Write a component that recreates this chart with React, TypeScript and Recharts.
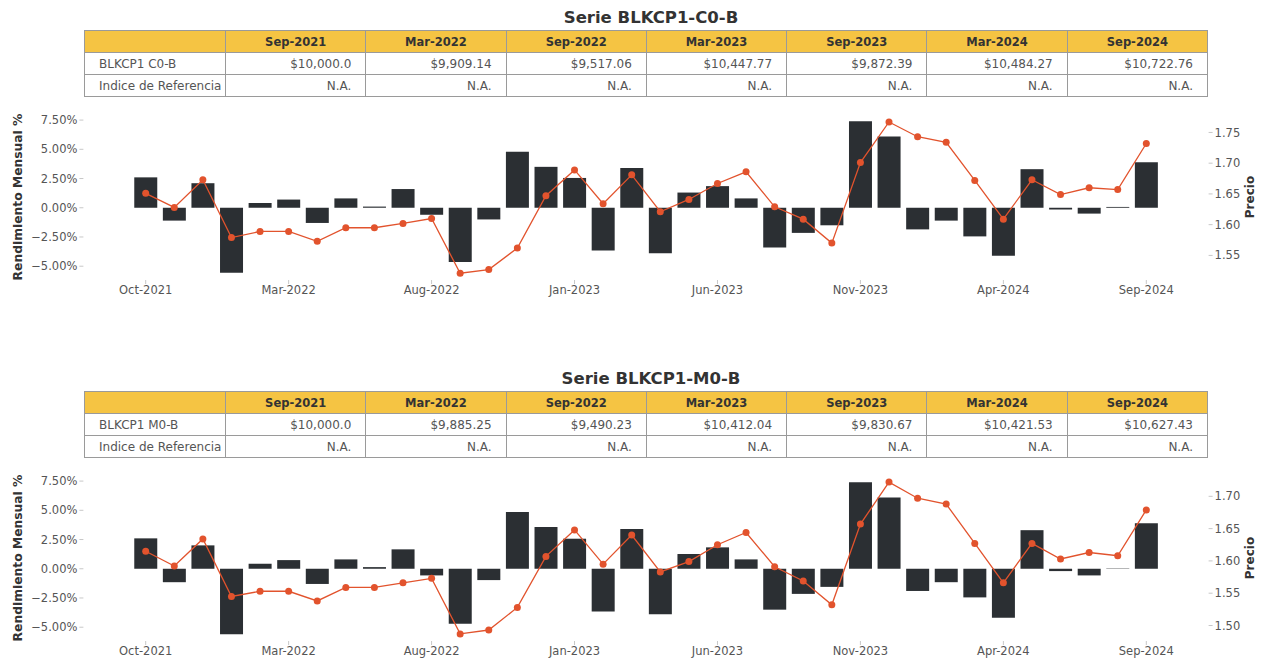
import React from "react";
import { ComposedChart, Bar, Line, XAxis, YAxis } from "recharts";

const MESES = [
  "Oct-2021", "Nov-2021", "Dec-2021", "Jan-2022", "Feb-2022", "Mar-2022",
  "Apr-2022", "May-2022", "Jun-2022", "Jul-2022", "Aug-2022", "Sep-2022",
  "Oct-2022", "Nov-2022", "Dec-2022", "Jan-2023", "Feb-2023", "Mar-2023",
  "Apr-2023", "May-2023", "Jun-2023", "Jul-2023", "Aug-2023", "Sep-2023",
  "Oct-2023", "Nov-2023", "Dec-2023", "Jan-2024", "Feb-2024", "Mar-2024",
  "Apr-2024", "May-2024", "Jun-2024", "Jul-2024", "Aug-2024", "Sep-2024",
];

// rendimiento mensual % (barras)
const REND_C0 = [
  2.6, -1.1, 2.1, -5.55, 0.4, 0.7, -1.3, 0.8, 0.1, 1.6, -0.6, -4.65,
  -1.0, 4.8, 3.5, 2.55, -3.65, 3.4, -3.9, 1.3, 1.85, 0.8, -3.4, -2.15,
  -1.5, 7.4, 6.1, -1.85, -1.1, -2.45, -4.1, 3.3, -0.15, -0.5, 0.07, 3.9,
];
const REND_M0 = [
  2.6, -1.15, 2.0, -5.6, 0.43, 0.74, -1.3, 0.8, 0.14, 1.66, -0.57, -4.7,
  -0.97, 4.86, 3.57, 2.57, -3.66, 3.4, -3.9, 1.26, 1.83, 0.8, -3.5, -2.15,
  -1.55, 7.4, 6.1, -1.9, -1.15, -2.45, -4.2, 3.3, -0.2, -0.57, 0.03, 3.9,
];

// precio (linea)
const PRECIO_C0 = [
  1.651, 1.628, 1.673, 1.579, 1.589, 1.589, 1.573, 1.595, 1.595, 1.602, 1.61, 1.521,
  1.527, 1.562, 1.647, 1.689, 1.634, 1.681, 1.621, 1.641, 1.667, 1.686, 1.629, 1.609,
  1.57, 1.701, 1.767, 1.743, 1.734, 1.672, 1.609, 1.673, 1.649, 1.66, 1.657, 1.732,
];
const PRECIO_M0 = [
  1.615, 1.592, 1.634, 1.545, 1.553, 1.553, 1.538, 1.559, 1.559, 1.566, 1.573, 1.487,
  1.493, 1.528, 1.607, 1.648, 1.595, 1.64, 1.583, 1.599, 1.625, 1.644, 1.591, 1.569,
  1.532, 1.657, 1.722, 1.697, 1.688, 1.627, 1.566, 1.627, 1.603, 1.613, 1.608, 1.679,
];

// tabla
const FECHAS_TABLA = ["Sep-2021", "Mar-2022", "Sep-2022", "Mar-2023", "Sep-2023", "Mar-2024", "Sep-2024"];
const VALOR_C0 = ["$10,000.0", "$9,909.14", "$9,517.06", "$10,447.77", "$9,872.39", "$10,484.27", "$10,722.76"];
const VALOR_M0 = ["$10,000.0", "$9,885.25", "$9,490.23", "$10,412.04", "$9,830.67", "$10,421.53", "$10,627.43"];

const PCT_TICKS = [-5, -2.5, 0, 2.5, 5, 7.5];
const PRECIO_TICKS_C0 = [1.55, 1.6, 1.65, 1.7, 1.75];
const PRECIO_TICKS_M0 = [1.5, 1.55, 1.6, 1.65, 1.7];

const FONT = "'DejaVu Sans', Verdana, sans-serif";
const BAR_COLOR = "#2b2f33";
const LINE_COLOR = "#e2532d";
const GOLD = "#f5c443";

const fmtPct = (v: number) => `${v.toFixed(2)}%`.replace("-", "\u2212");

interface PanelProps {
  top: number;
  titulo: string;
  nombre: string;
  valores: string[];
  rend: number[];
  precio: number[];
  precioDomain: [number, number];
  precioTicks: number[];
}

const Panel = ({ top, titulo, nombre, valores, rend, precio, precioDomain, precioTicks }: PanelProps) => {
  const data = MESES.map((m, i) => ({ mes: m, rend: rend[i], precio: precio[i] }));
  const cell: React.CSSProperties = {
    border: "1px solid #9a9a9a",
    height: 21,
    padding: "0 14px",
    fontSize: 12,
    color: "#555",
    whiteSpace: "nowrap",
  };
  const tick = { fontSize: 11.5, fill: "#555", fontFamily: FONT };
  return (
    <>
      <div
        style={{
          position: "absolute", left: 451, top: top + 8, width: 400, textAlign: "center",
          fontWeight: "bold", fontSize: 16.5, color: "#333", lineHeight: "20px",
        }}
      >
        {titulo}
      </div>
      <table
        style={{
          position: "absolute", left: 84, top: top + 30, width: 1124, borderCollapse: "collapse",
          tableLayout: "fixed", fontFamily: FONT,
        }}
      >
        <colgroup>
          <col style={{ width: 141 }} />
          {FECHAS_TABLA.map((f) => <col key={f} />)}
        </colgroup>
        <tbody>
          <tr style={{ background: GOLD }}>
            <td style={cell}></td>
            {FECHAS_TABLA.map((f) => (
              <td key={f} style={{ ...cell, textAlign: "center", fontWeight: "bold", color: "#333", fontSize: 11.5 }}>{f}</td>
            ))}
          </tr>
          <tr>
            <td style={cell}>{nombre}</td>
            {valores.map((v, i) => (
              <td key={i} style={{ ...cell, textAlign: "right" }}>{v}</td>
            ))}
          </tr>
          <tr>
            <td style={cell}>Indice de Referencia</td>
            {valores.map((_, i) => (
              <td key={i} style={{ ...cell, textAlign: "right" }}>N.A.</td>
            ))}
          </tr>
        </tbody>
      </table>
      <div style={{ position: "absolute", left: 0, top: top + 100 }}>
        <ComposedChart
          width={1264}
          height={210}
          data={data}
          margin={{ top: 14, right: 0, bottom: 0, left: 0 }}
          barCategoryGap="10%"
        >
          <XAxis
            dataKey="mes"
            interval={4}
            height={30}
            axisLine={false}
            tickLine={{ stroke: "#c8c8c8" }}
            tickSize={4}
            tickMargin={2}
            tick={tick}
            padding={{ left: 48, right: 48 }}
          />
          <YAxis
            yAxisId="pct"
            width={83.4}
            domain={[-6.18, 8.02]}
            allowDataOverflow
            ticks={PCT_TICKS}
            tickFormatter={fmtPct}
            axisLine={false}
            tickLine={{ stroke: "#c8c8c8" }}
            tickSize={4}
            tickMargin={2}
            tick={tick}
            label={{
              value: "Rendimiento Mensual %", angle: -90, position: "insideLeft", offset: 18,
              style: { textAnchor: "middle", fontWeight: "bold", fontSize: 12.3, fill: "#333", fontFamily: FONT },
            }}
          />
          <YAxis
            yAxisId="precio"
            orientation="right"
            width={55.4}
            domain={precioDomain}
            allowDataOverflow
            ticks={precioTicks}
            tickFormatter={(v: number) => v.toFixed(2)}
            axisLine={false}
            tickLine={{ stroke: "#c8c8c8" }}
            tickSize={4}
            tickMargin={2}
            tick={tick}
            label={{
              value: "Precio", angle: -90, position: "insideRight", offset: 14,
              style: { textAnchor: "middle", fontWeight: "bold", fontSize: 12, fill: "#333", fontFamily: FONT },
            }}
          />
          <Bar yAxisId="pct" dataKey="rend" fill={BAR_COLOR} isAnimationActive={false} />
          <Line
            yAxisId="precio"
            dataKey="precio"
            stroke={LINE_COLOR}
            strokeWidth={1.3}
            dot={{ r: 3.5, fill: LINE_COLOR, stroke: "none" }}
            activeDot={false}
            isAnimationActive={false}
          />
        </ComposedChart>
      </div>
    </>
  );
};

export default function App() {
  return (
    <div
      style={{
        position: "absolute", left: 0, top: 0, width: 1264, height: 661, background: "#fff",
        fontFamily: FONT, overflow: "hidden",
      }}
    >
      <Panel
        top={0}
        titulo="Serie BLKCP1-C0-B"
        nombre="BLKCP1 C0-B"
        valores={VALOR_C0}
        rend={REND_C0}
        precio={PRECIO_C0}
        precioDomain={[1.51, 1.78]}
        precioTicks={PRECIO_TICKS_C0}
      />
      <Panel
        top={361}
        titulo="Serie BLKCP1-M0-B"
        nombre="BLKCP1 M0-B"
        valores={VALOR_M0}
        rend={REND_M0}
        precio={PRECIO_M0}
        precioDomain={[1.476, 1.733]}
        precioTicks={PRECIO_TICKS_M0}
      />
    </div>
  );
}
